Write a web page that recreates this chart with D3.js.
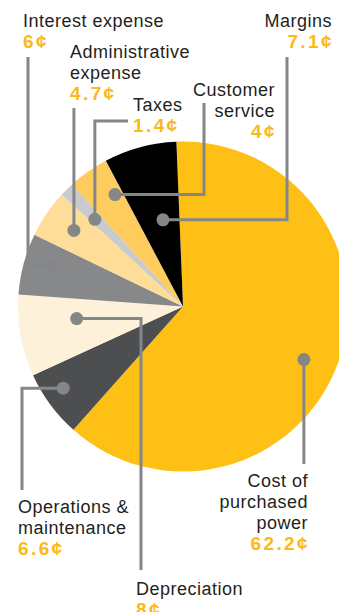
<!DOCTYPE html>
<html>
<head>
<meta charset="utf-8">
<script src="https://cdn.jsdelivr.net/npm/d3@7"></script>
<style>
  html, body { margin: 0; padding: 0; background: #fff; overflow: hidden; }
  svg { display: block; }
  .lbl { font-family: "Liberation Sans", Arial, Helvetica, sans-serif; font-size: 18px; fill: #231f20; letter-spacing: 0.5px; }
  .val { font-family: "Liberation Sans", Arial, Helvetica, sans-serif; font-size: 19px; font-weight: bold; fill: #fdb913; letter-spacing: 2.4px; }
</style>
</head>
<body>
<svg width="339" height="612"></svg>
<script>
// where each cent of the dollar goes, clockwise from the top
const categories = ['Cost of purchased power', 'Operations & maintenance', 'Depreciation',
  'Interest expense', 'Administrative expense', 'Taxes', 'Customer service', 'Margins']
const cents = [62.2, 6.6, 8, 6, 4.7, 1.4, 4, 7.1]
const valueLabels = ['62.2¢', '6.6¢', '8¢', '6¢', '4.7¢', '1.4¢', '4¢', '7.1¢']
const labelLines = [
  ['Cost of', 'purchased', 'power'],
  ['Operations &', 'maintenance'],
  ['Depreciation'],
  ['Interest expense'],
  ['Administrative', 'expense'],
  ['Taxes'],
  ['Customer', 'service'],
  ['Margins']
]
const colors = ['#fec014', '#4d4e50', '#fef1d9', '#87888a', '#fedd98', '#c9cacc', '#fecc5c', '#000000']

const svg = d3.select('svg')
const cx = 183
const cy = 306.5
const radius = 165
const startDeg = -2.3
const lineColor = '#858688'
const lineHeight = 21

// callout layout: dot (angle deg clockwise from top, distance px), leader path steps, label spot
const callouts = [
  {dotA: 113.7, dotR: 132, steps: [['v', 464]], x: 308, y: 487, anchor: 'end'},
  {dotA: 235.7, dotR: 145, steps: [['h', 22], ['v', 490]], x: 18, y: 513, anchor: 'start'},
  {dotA: 263.5, dotR: 107, steps: [['h', 141], ['v', 570]], x: 136, y: 595, anchor: 'start'},
  {dotA: 287.4, dotR: 137, steps: [['h', 28], ['v', 57]], x: 23, y: 27, anchor: 'start'},
  {dotA: 304.9, dotR: 133, steps: [['v', 108]], x: 70, y: 58, anchor: 'start'},
  {dotA: 314.7, dotR: 124, steps: [['v', 121], ['h', 128]], x: 133, y: 111, anchor: 'start'},
  {dotA: 328.7, dotR: 131, steps: [['h', 204], ['v', 103]], x: 275, y: 96, anchor: 'end'},
  {dotA: 347, dotR: 89, steps: [['h', 287], ['v', 57]], x: 332, y: 27, anchor: 'end'}
]

const rad = d => d * Math.PI / 180

const pie = d3.pie()
  .sort(null)
  .value(d => d)
  .startAngle(rad(startDeg))
  .endAngle(rad(startDeg + 360))

const arc = d3.arc().innerRadius(0).outerRadius(radius)

const pieGroup = svg.append('g')
  .attr('transform', `translate(${cx}, ${cy})`)

pieGroup.selectAll('path')
  .data(pie(cents))
  .join('path')
  .attr('d', arc)
  .attr('fill', (_, i) => colors[i])

// leaders
const leaders = svg.append('g')

callouts.forEach((c, i) => {
  const x0 = cx + c.dotR * Math.sin(rad(c.dotA))
  const y0 = cy - c.dotR * Math.cos(rad(c.dotA))
  let x = x0, y = y0
  const pts = [[x, y]]
  c.steps.forEach(s => {
    if (s[0] === 'h') x = s[1]
    else y = s[1]
    pts.push([x, y])
  })
  leaders.append('path')
    .attr('d', d3.line()(pts))
    .attr('fill', 'none')
    .attr('stroke', lineColor)
    .attr('stroke-width', 3)
  leaders.append('circle')
    .attr('cx', x0)
    .attr('cy', y0)
    .attr('r', 6.5)
    .attr('fill', lineColor)

  const t = svg.append('g')
  labelLines[i].forEach((line, k) => {
    t.append('text')
      .attr('class', 'lbl')
      .attr('x', c.x)
      .attr('y', c.y + k * lineHeight)
      .attr('text-anchor', c.anchor)
      .text(line)
  })
  t.append('text')
    .attr('class', 'val')
    .attr('x', c.x + (c.anchor === 'end' ? 2 : 0))
    .attr('y', c.y + labelLines[i].length * lineHeight)
    .attr('text-anchor', c.anchor)
    .text(valueLabels[i])
})
</script>
</body>
</html>
